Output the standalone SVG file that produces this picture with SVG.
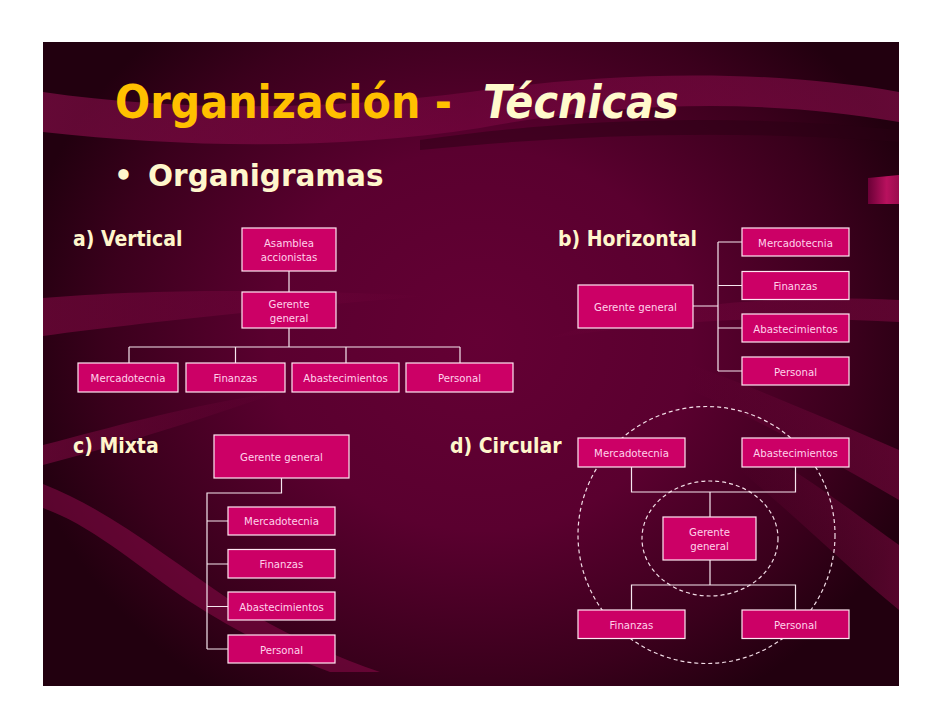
<svg xmlns="http://www.w3.org/2000/svg" width="942" height="728" viewBox="0 0 942 728">
<defs>
<radialGradient id="bg" cx="480" cy="340" r="470" gradientUnits="userSpaceOnUse" gradientTransform="translate(480 340) scale(1 0.9) translate(-480 -340)">
<stop offset="0" stop-color="#640034"/>
<stop offset="0.45" stop-color="#5a002f"/>
<stop offset="0.8" stop-color="#3a001c"/>
<stop offset="1" stop-color="#22000f"/>
</radialGradient>
<linearGradient id="tab" x1="0" y1="0" x2="1" y2="0">
<stop offset="0" stop-color="#6a0036"/>
<stop offset="0.6" stop-color="#b8115e"/>
<stop offset="1" stop-color="#9a0c4e"/>
</linearGradient>
<linearGradient id="sw" x1="0" y1="0" x2="1" y2="0">
<stop offset="0" stop-color="#9a1055" stop-opacity="0.55"/>
<stop offset="0.5" stop-color="#8a0a4a" stop-opacity="0.4"/>
<stop offset="1" stop-color="#9a1055" stop-opacity="0.55"/>
</linearGradient>
<linearGradient id="fadeR" x1="0" y1="0" x2="1" y2="0">
<stop offset="0" stop-color="#8a0a48" stop-opacity="0.55"/>
<stop offset="1" stop-color="#8a0a48" stop-opacity="0"/>
</linearGradient>
<linearGradient id="fadeL" x1="0" y1="0" x2="1" y2="0">
<stop offset="0" stop-color="#8a0a48" stop-opacity="0"/>
<stop offset="1" stop-color="#8a0a48" stop-opacity="0.5"/>
</linearGradient>
<style>
.box{fill:#CC0066;stroke:#FFE6F2;stroke-width:1.2}
.bt{font-family:"DejaVu Sans Condensed","DejaVu Sans",sans-serif;font-stretch:condensed;font-size:11.3px;fill:#FFD2EA;text-anchor:middle}
.lbl{font-family:"DejaVu Sans Condensed","DejaVu Sans",sans-serif;font-stretch:condensed;font-weight:bold;font-size:21px;fill:#FFF6CC}
.ln{fill:none;stroke:#F6E6EE;stroke-width:1.2}
.dash{fill:none;stroke:#F2DCE6;stroke-width:1.2;stroke-dasharray:4 3}
</style>
</defs>
<rect width="942" height="728" fill="#ffffff"/>
<g id="background">
<rect x="43" y="42" width="856" height="644" fill="url(#bg)"/>
<path d="M43,92 C180,112 330,110 470,92 C610,72 760,68 899,92 L899,122 C760,98 620,102 480,128 C340,150 190,148 43,132 Z" fill="url(#sw)"/>
<path d="M420,140 C560,120 720,112 899,130 L899,142 C720,128 560,136 420,150 Z" fill="#2a0014" opacity="0.5"/>
<path d="M43,298 C140,290 260,288 430,296 C300,306 150,322 43,336 Z" fill="url(#fadeR)"/>
<path d="M43,445 C120,425 190,405 280,392 C200,420 120,445 43,465 Z" fill="url(#fadeR)"/>
<path d="M43,484 C110,510 170,560 230,600 C280,632 330,655 380,672 L330,672 C270,650 220,622 180,595 C130,560 90,525 43,508 Z" fill="#8a0a48" opacity="0.55"/>
<path d="M690,364 C760,390 830,420 899,450 L899,500 C830,460 760,420 690,390 Z" fill="url(#fadeL)"/>
<path d="M740,440 C800,470 850,510 899,545 L899,610 C850,570 800,520 740,470 Z" fill="url(#fadeL)"/>
<path d="M540,340 C650,306 760,294 899,300 L899,322 C760,314 650,322 540,340 Z" fill="url(#fadeL)"/>
<path d="M868,178 L899,175 L899,204 L868,204 Z" fill="url(#tab)"/>
</g>
<g id="title">
<text x="115" y="118" font-family="'DejaVu Sans Condensed','DejaVu Sans',sans-serif" font-stretch="condensed" font-weight="bold" font-size="46" fill="#FFC000">Organización -<tspan x="483" fill="#FFFACC" font-style="italic">Técnicas</tspan></text>
<text x="114" y="186" font-family="'DejaVu Sans',sans-serif" font-weight="bold" font-size="29.5" fill="#FFF6CC">•<tspan x="148">Organigramas</tspan></text>
</g>
<g id="labels">
<text class="lbl" x="73" y="246">a) Vertical</text>
<text class="lbl" x="558" y="246">b) Horizontal</text>
<text class="lbl" x="73" y="453">c) Mixta</text>
<text class="lbl" x="450" y="453">d) Circular</text>
</g>
<g id="connectors">
<path class="ln" d="M289,271 V292 M289,328 V347 M129,347 H460 M129,347 V363 M235.5,347 V363 M346,347 V363 M460,347 V363"/>
<path class="ln" d="M693,306 H718 M718,242 V371 M718,242 H742 M718,285.5 H742 M718,328 H742 M718,371 H742"/>
<path class="ln" d="M281.5,478 V493 H207 V649 M207,521 H228 M207,564 H228 M207,606.5 H228 M207,649 H228"/>
<path class="ln" d="M631.5,467 V492 H795.5 V467 M710,492 V517 M710,560 V585 M631.5,610 V585 H795.5 V610"/>
<circle class="dash" cx="706.5" cy="535" r="128.5"/>
<ellipse class="dash" cx="710" cy="538.5" rx="68" ry="57.5"/>
</g>
<g id="v-asamblea"><rect class="box" x="242" y="228" width="94" height="43"/><text class="bt" x="289" y="247">Asamblea</text><text class="bt" x="289" y="261">accionistas</text></g>
<g id="v-gerente"><rect class="box" x="242" y="292" width="94" height="36"/><text class="bt" x="289" y="307.5">Gerente</text><text class="bt" x="289" y="321.5">general</text></g>
<g id="v-mercadotecnia"><rect class="box" x="78" y="363" width="100" height="29"/><text class="bt" x="128" y="381.5">Mercadotecnia</text></g>
<g id="v-finanzas"><rect class="box" x="186" y="363" width="99" height="29"/><text class="bt" x="235.5" y="381.5">Finanzas</text></g>
<g id="v-abastecimientos"><rect class="box" x="292" y="363" width="107" height="29"/><text class="bt" x="345.5" y="381.5">Abastecimientos</text></g>
<g id="v-personal"><rect class="box" x="406" y="363" width="107" height="29"/><text class="bt" x="459.5" y="381.5">Personal</text></g>
<g id="h-gerente"><rect class="box" x="578" y="285" width="115" height="43"/><text class="bt" x="635.5" y="310.5">Gerente general</text></g>
<g id="h-mercadotecnia"><rect class="box" x="742" y="228" width="107" height="28"/><text class="bt" x="795.5" y="246.5">Mercadotecnia</text></g>
<g id="h-finanzas"><rect class="box" x="742" y="271.5" width="107" height="28"/><text class="bt" x="795.5" y="290">Finanzas</text></g>
<g id="h-abastecimientos"><rect class="box" x="742" y="314" width="107" height="28"/><text class="bt" x="795.5" y="332.5">Abastecimientos</text></g>
<g id="h-personal"><rect class="box" x="742" y="357" width="107" height="28"/><text class="bt" x="795.5" y="375.5">Personal</text></g>
<g id="m-gerente"><rect class="box" x="214" y="435" width="135" height="43"/><text class="bt" x="281.5" y="460.5">Gerente general</text></g>
<g id="m-mercadotecnia"><rect class="box" x="228" y="507" width="107" height="28"/><text class="bt" x="281.5" y="525">Mercadotecnia</text></g>
<g id="m-finanzas"><rect class="box" x="228" y="549.5" width="107" height="28.5"/><text class="bt" x="281.5" y="568">Finanzas</text></g>
<g id="m-abastecimientos"><rect class="box" x="228" y="592" width="107" height="28"/><text class="bt" x="281.5" y="610.5">Abastecimientos</text></g>
<g id="m-personal"><rect class="box" x="228" y="635" width="107" height="28"/><text class="bt" x="281.5" y="653.5">Personal</text></g>
<g id="c-mercadotecnia"><rect class="box" x="578" y="438" width="107" height="29"/><text class="bt" x="631.5" y="457">Mercadotecnia</text></g>
<g id="c-abastecimientos"><rect class="box" x="742" y="438" width="107" height="29"/><text class="bt" x="795.5" y="457">Abastecimientos</text></g>
<g id="c-gerente"><rect class="box" x="663" y="517" width="93" height="43"/><text class="bt" x="709.5" y="536">Gerente</text><text class="bt" x="709.5" y="550">general</text></g>
<g id="c-finanzas"><rect class="box" x="578" y="610" width="107" height="28.5"/><text class="bt" x="631.5" y="629">Finanzas</text></g>
<g id="c-personal"><rect class="box" x="742" y="610" width="107" height="28.5"/><text class="bt" x="795.5" y="629">Personal</text></g>
</svg>
